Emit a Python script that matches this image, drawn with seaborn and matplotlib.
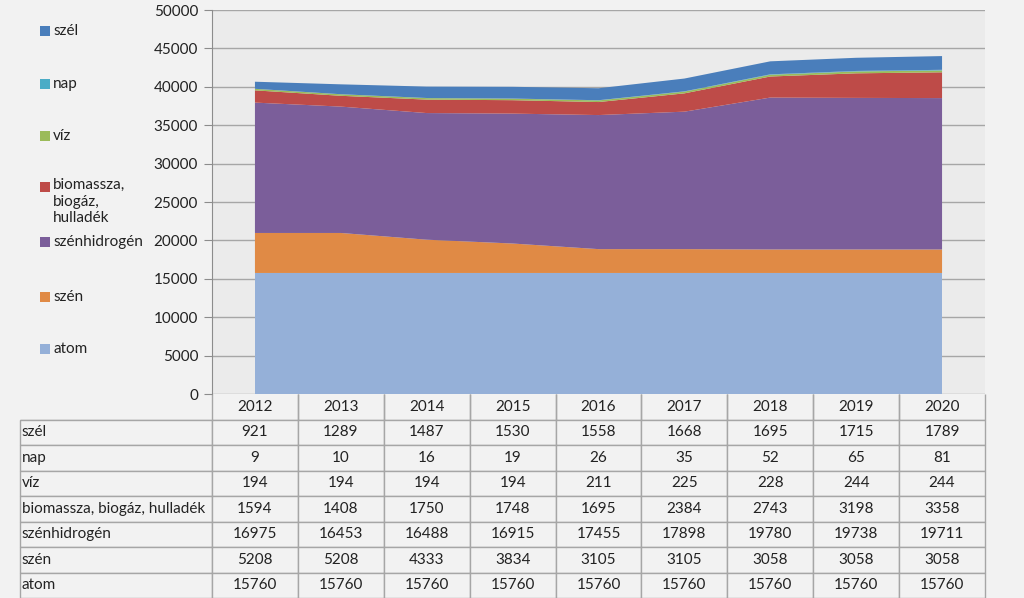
import numpy as np
import seaborn as sns
import matplotlib.pyplot as plt
from matplotlib.patches import Rectangle

# Data
years = ['2012', '2013', '2014', '2015', '2016', '2017', '2018', '2019', '2020']
szel = [921, 1289, 1487, 1530, 1558, 1668, 1695, 1715, 1789]
nap = [9, 10, 16, 19, 26, 35, 52, 65, 81]
viz = [194, 194, 194, 194, 211, 225, 228, 244, 244]
biomassza = [1594, 1408, 1750, 1748, 1695, 2384, 2743, 3198, 3358]
szenhidrogen = [16975, 16453, 16488, 16915, 17455, 17898, 19780, 19738, 19711]
szen = [5208, 5208, 4333, 3834, 3105, 3105, 3058, 3058, 3058]
atom = [15760, 15760, 15760, 15760, 15760, 15760, 15760, 15760, 15760]

labels_top = ['szél', 'nap', 'víz', 'biomassza, biogáz, hulladék', 'szénhidrogén', 'szén', 'atom']
series_top = [szel, nap, viz, biomassza, szenhidrogen, szen, atom]
colors_top = ['#4A7EBB', '#4BACC6', '#9BBB59', '#BE4B48', '#7B5E9A', '#E08A45', '#95B0D8']
legend_labels = ['szél', 'nap', 'víz', 'biomassza,\nbiogáz,\nhulladék', 'szénhidrogén', 'szén', 'atom']

sns.set_style('white')
plt.rcParams['font.family'] = ['Lato', 'DejaVu Sans']

W, H = 1024, 598
fig = plt.figure(figsize=(W / 100, H / 100), dpi=100, facecolor='#f2f2f2')
ax = fig.add_axes([212 / W, 1 - 394 / H, (985 - 212) / W, (394 - 10) / H])
ax.set_facecolor('#ebebeb')

x = np.arange(len(years))
ax.stackplot(x, *series_top[::-1], colors=colors_top[::-1], zorder=3,
             edgecolor='none')

ax.set_xlim(-0.5, len(years) - 0.5)
ax.set_ylim(0, 50000)
ax.set_yticks(np.arange(0, 50001, 5000))
ax.yaxis.grid(True, color='#a6a6a6', lw=1, zorder=1)
ax.set_axisbelow(True)
ax.set_xticks([])
for s in ['top', 'right', 'bottom']:
    ax.spines[s].set_visible(False)
ax.spines['left'].set_color('#8c8c8c')
ax.tick_params(axis='y', length=6, color='#8c8c8c', labelsize=11, pad=4,
               labelcolor='#222222', left=True)

# Legend on the left
leg_y = [31, 84, 136, 187, 242, 297, 349]
for lab, col, yy in zip(legend_labels, colors_top, leg_y):
    fig.patches.append(Rectangle((40 / W, 1 - (yy + 5) / H), 10 / W, 10 / H,
                                 transform=fig.transFigure, facecolor=col,
                                 edgecolor='none'))
    if '\n' in lab:
        fig.text(53 / W, 1 - (yy - 9) / H, lab, ha='left', va='top',
                 fontsize=11, color='#222222', linespacing=1.25)
    else:
        fig.text(53 / W, 1 - yy / H, lab, ha='left', va='center',
                 fontsize=11, color='#222222')

# Data table below the chart
cell_text = [[lab] + [str(v) for v in s] for lab, s in zip(labels_top, series_top)]
col_labels = [''] + years
label_w = 192
year_w = (985 - 212) / len(years)
total_w = label_w + year_w * len(years)
col_widths = [label_w / total_w] + [year_w / total_w] * len(years)
ax_h = 394 - 10
tbl = ax.table(cellText=cell_text, colLabels=col_labels, colWidths=col_widths,
               cellLoc='center',
               bbox=[(20 - 212) / 773, -(598 - 394) / ax_h, total_w / 773, (598 - 394) / ax_h])
tbl.auto_set_font_size(False)
tbl.set_fontsize(11)
for (r, c), cell in tbl.get_celld().items():
    cell.set_edgecolor('#a6a6a6')
    cell.set_facecolor('#f2f2f2')
    cell.set_linewidth(1)
    cell.get_text().set_color('#222222')
    if c == 0:
        cell.get_text().set_ha('left')
        cell.PAD = 0.01
    if r == 0:
        if c == 0:
            cell.visible_edges = 'B'
        else:
            cell.visible_edges = 'LRB'
tbl.set_clip_on(False)

plt.savefig('out.png', dpi=100, facecolor=fig.get_facecolor())
